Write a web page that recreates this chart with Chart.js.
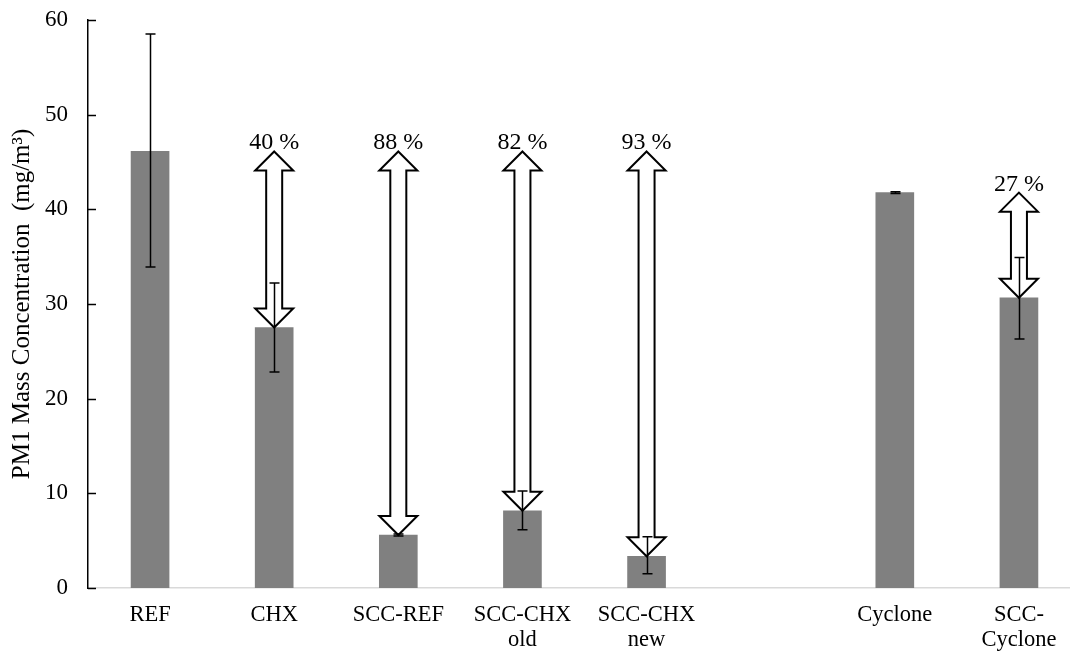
<!DOCTYPE html>
<html>
<head>
<meta charset="utf-8">
<script src="https://cdn.jsdelivr.net/npm/chart.js@4"></script>
<style>
  body { margin: 0; overflow: hidden; background: #fff; }
  #wrap { position: absolute; left: 0; top: -14px; width: 1082px; height: 668px; }
</style>
</head>
<body>
<div id="wrap"><canvas id="chart" width="1082" height="668"></canvas></div>
<script>
// categories (empty slot between the SCC-CHX group and the cyclone group)
const categories = ["REF", "CHX", "SCC-REF", ["SCC-CHX", "old"], ["SCC-CHX", "new"], "", "Cyclone", ["SCC-", "Cyclone"]];

// PM1 mass concentration (mg/m3)
const pm1Values = [46.1, 27.5, 5.6, 8.15, 3.35, null, 41.75, 30.65];
const errLow = [33.9, 22.8, 5.5, 6.15, 1.5, null, 41.65, 26.3];
const errHigh = [58.5, 32.2, 5.7, 10.25, 5.4, null, 41.85, 34.9];

// reduction arrows: start value (reference level) and label
const arrowFrom = [null, 46.1, 46.1, 46.1, 46.1, null, null, 41.75];
const reductionLabels = [null, "40 %", "88 %", "82 %", "93 %", null, null, "27 %"];

const yTicks = [0, 10, 20, 30, 40, 50, 60];

const serif = "'Liberation Serif', 'Times New Roman', serif";

const annotations = {
    id: "annotations",
    afterDatasetsDraw(chart) {
        const ctx = chart.ctx;
        const x = chart.scales.x;
        const y = chart.scales.y;
        ctx.save();

        // y tick marks pointing into the plot
        ctx.strokeStyle = "#000";
        ctx.lineWidth = 1.5;
        yTicks.forEach(v => {
            const py = Math.round(y.getPixelForValue(v)) + 0.5;
            ctx.beginPath();
            ctx.moveTo(chart.chartArea.left, py);
            ctx.lineTo(chart.chartArea.left + 8, py);
            ctx.stroke();
        });

        // hollow double arrows
        arrowFrom.forEach((from, i) => {
            if (from == null) return;
            const cx = x.getPixelForValue(i);
            const top = y.getPixelForValue(from);
            const bot = y.getPixelForValue(pm1Values[i]);
            const head = 19, half = 19, shaft = 8;
            ctx.beginPath();
            ctx.moveTo(cx, top);
            ctx.lineTo(cx + half, top + head);
            ctx.lineTo(cx + shaft, top + head);
            ctx.lineTo(cx + shaft, bot - head);
            ctx.lineTo(cx + half, bot - head);
            ctx.lineTo(cx, bot);
            ctx.lineTo(cx - half, bot - head);
            ctx.lineTo(cx - shaft, bot - head);
            ctx.lineTo(cx - shaft, top + head);
            ctx.lineTo(cx - half, top + head);
            ctx.closePath();
            ctx.fillStyle = "#fff";
            ctx.fill();
            ctx.lineWidth = 2;
            ctx.strokeStyle = "#000";
            ctx.stroke();

            ctx.fillStyle = "#000";
            ctx.font = "24px " + serif;
            ctx.textAlign = "center";
            ctx.textBaseline = "alphabetic";
            ctx.fillText(reductionLabels[i], cx, top - 2);
        });

        // error bars
        ctx.strokeStyle = "#000";
        ctx.lineWidth = 1.5;
        pm1Values.forEach((v, i) => {
            if (v == null) return;
            const cx = Math.round(x.getPixelForValue(i)) + 0.5;
            const yh = y.getPixelForValue(errHigh[i]);
            const yl = y.getPixelForValue(errLow[i]);
            ctx.beginPath();
            ctx.moveTo(cx, yh);
            ctx.lineTo(cx, yl);
            ctx.moveTo(cx - 5, yh);
            ctx.lineTo(cx + 5, yh);
            ctx.moveTo(cx - 5, yl);
            ctx.lineTo(cx + 5, yl);
            ctx.stroke();
        });

        ctx.restore();
    }
};

new Chart(document.getElementById("chart"), {
    type: "bar",
    data: {
        labels: categories,
        datasets: [{
            data: pm1Values,
            backgroundColor: "#808080",
            borderWidth: 0,
            barThickness: 38
        }]
    },
    options: {
        responsive: false,
        animation: false,
        layout: { padding: { top: 7, right: 1, left: 0, bottom: 0 } },
        plugins: { legend: { display: false }, tooltip: { enabled: false } },
        scales: {
            x: {
                grid: { display: false, drawTicks: false },
                border: { display: true, color: "#d9d9d9", width: 1.5 },
                ticks: {
                    color: "#000",
                    padding: 14,
                    maxRotation: 0,
                    autoSkip: false,
                    font: { family: serif, size: 22.5, lineHeight: 1.12 }
                },
                afterFit(scale) { scale.height = 66; }
            },
            y: {
                min: 0,
                max: 60,
                grid: { display: false, drawTicks: false },
                border: { display: true, color: "#000", width: 1.5 },
                ticks: {
                    stepSize: 10,
                    color: "#000",
                    padding: 20,
                    font: { family: serif, size: 23 }
                },
                title: {
                    display: true,
                    text: "PM1 Mass Concentration  (mg/m³)",
                    color: "#000",
                    padding: { top: 7, bottom: 0 },
                    font: { family: serif, size: 25 }
                },
                afterFit(scale) { scale.width = 88; }
            }
        }
    },
    plugins: [annotations]
});
</script>
</body>
</html>
